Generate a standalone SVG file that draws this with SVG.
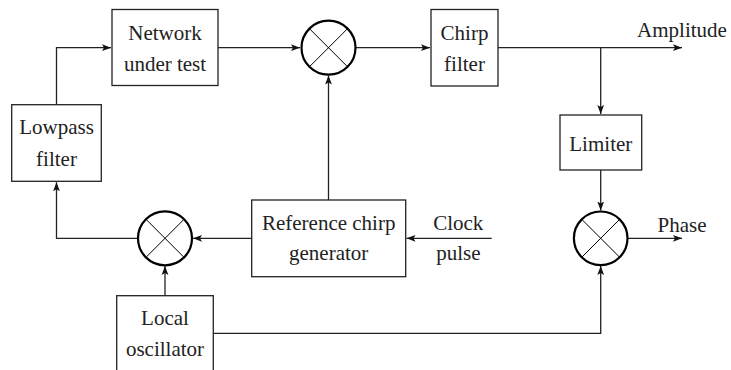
<svg xmlns="http://www.w3.org/2000/svg" width="731" height="370" viewBox="0 0 731 370">
<style>
.box{fill:#fff;stroke:#222;stroke-width:1.3}
.mix{fill:#fff;stroke:#000;stroke-width:2.2}
.x{stroke:#000;stroke-width:1}
.c{fill:none;stroke:#222;stroke-width:1.3}
text{font-family:"Liberation Serif","Times New Roman",serif;font-size:21px;fill:#222;text-anchor:middle}
</style>
<defs>
<marker id="ah" markerUnits="userSpaceOnUse" markerWidth="10" markerHeight="8" refX="9" refY="4" orient="auto">
<path d="M0,0.6 L9,4 L0,7.4 L2,4 z" fill="#111"/>
</marker>
</defs>
<g id="connectors">
<path class="c" d="M56.5,104.7 V47.7 H111" marker-end="url(#ah)"/>
<path class="c" d="M218,47.7 H300" marker-end="url(#ah)"/>
<path class="c" d="M355.5,47.7 H430" marker-end="url(#ah)"/>
<path class="c" d="M498,47.7 H682" marker-end="url(#ah)"/>
<path class="c" d="M600.7,47.7 V114" marker-end="url(#ah)"/>
<path class="c" d="M600.7,170 V210.5" marker-end="url(#ah)"/>
<path class="c" d="M627.5,238.3 H682" marker-end="url(#ah)"/>
<path class="c" d="M213.3,333.3 H600.7 V266" marker-end="url(#ah)"/>
<path class="c" d="M328.5,200 V75.5" marker-end="url(#ah)"/>
<path class="c" d="M251.7,238.3 H193" marker-end="url(#ah)"/>
<path class="c" d="M491.7,238.3 H406.5" marker-end="url(#ah)"/>
<path class="c" d="M138,238.3 H56.5 V182.2" marker-end="url(#ah)"/>
<path class="c" d="M165,295.7 V266" marker-end="url(#ah)"/>
</g>
<g id="network">
<rect class="box" x="112" y="9.5" width="106" height="76"/>
<text x="165" y="39.5">Network</text>
<text x="165" y="70.5">under test</text>
</g>
<g id="lowpass">
<rect class="box" x="11.7" y="104.7" width="89.6" height="76.6"/>
<text x="56.5" y="133.5">Lowpass</text>
<text x="56.5" y="165.5">filter</text>
</g>
<g id="mixer1">
<circle class="mix" cx="328.5" cy="47.7" r="27"/>
<path class="x" d="M309.4,28.6 L347.6,66.8 M347.6,28.6 L309.4,66.8"/>
</g>
<g id="chirp">
<rect class="box" x="431" y="9.5" width="67" height="76.5"/>
<text x="464.5" y="39.5">Chirp</text>
<text x="464.5" y="70.5">filter</text>
</g>
<g id="amplitude"><text x="682" y="37.3">Amplitude</text></g>
<g id="limiter">
<rect class="box" x="560" y="115" width="81.7" height="55"/>
<text x="600.8" y="150.7">Limiter</text>
</g>
<g id="mixer3">
<circle class="mix" cx="600.7" cy="238.3" r="26.8"/>
<path class="x" d="M581.7,219.3 L619.7,257.3 M619.7,219.3 L581.7,257.3"/>
</g>
<g id="phase"><text x="682" y="231.7">Phase</text></g>
<g id="refchirp">
<rect class="box" x="251.7" y="200" width="154" height="76.7"/>
<text x="328.7" y="230">Reference chirp</text>
<text x="328.7" y="260">generator</text>
</g>
<g id="clock">
<text x="458.3" y="230">Clock</text>
<text x="458.3" y="260">pulse</text>
</g>
<g id="mixer2">
<circle class="mix" cx="165" cy="238.3" r="27"/>
<path class="x" d="M145.9,219.2 L184.1,257.4 M184.1,219.2 L145.9,257.4"/>
</g>
<g id="localosc">
<rect class="box" x="116.7" y="295.7" width="96.6" height="80"/>
<text x="165" y="324.5">Local</text>
<text x="165" y="355.7">oscillator</text>
</g>
</svg>
